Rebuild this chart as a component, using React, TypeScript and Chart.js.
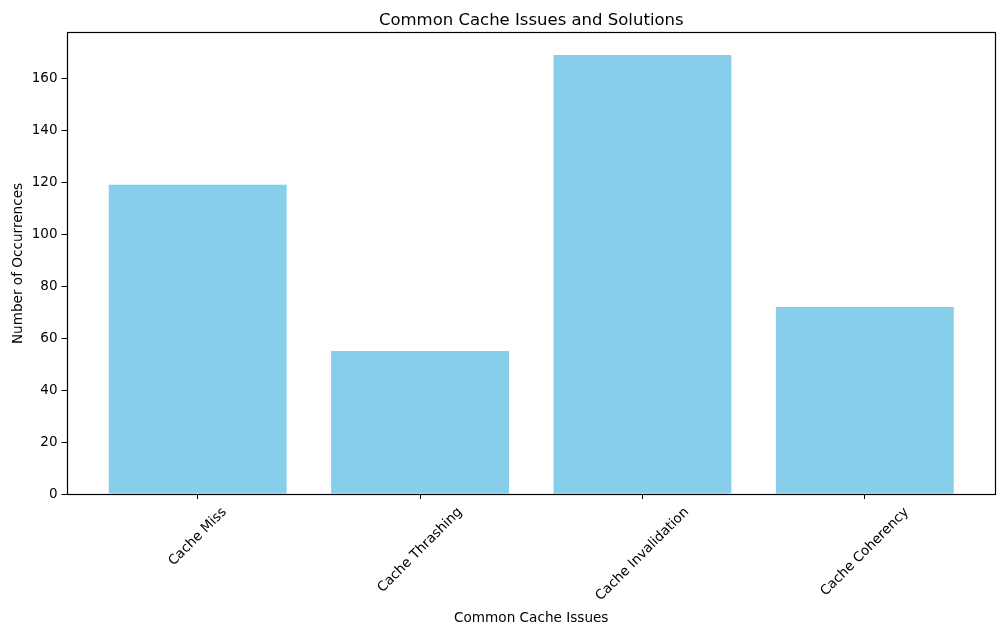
import React, { useEffect, useRef } from "react";
import { Chart, registerables } from "chart.js";

Chart.register(...registerables);

const categories = ["Cache Miss", "Cache Thrashing", "Cache Invalidation", "Cache Coherency"];
const occurrences = [119, 55, 169, 72];
const yTicks = [0, 20, 40, 60, 80, 100, 120, 140, 160];
const chartTitle = "Common Cache Issues and Solutions";
const xTitle = "Common Cache Issues";
const yTitle = "Number of Occurrences";

const FONT = "'DejaVu Sans', sans-serif";
const TICK_SIZE = 13.5;
const LABEL_SIZE = 13.6;
const TITLE_SIZE = 16.5;

export default function App() {
  const ref = useRef<HTMLCanvasElement | null>(null);

  useEffect(() => {
    if (!ref.current) return;
    const n = categories.length;
    const span = (n - 1) + 0.8;
    const margin = span * 0.05;
    const xMin = -0.4 - margin;
    const xMax = n - 1 + 0.4 + margin;
    const yMax = Math.max(...occurrences) * 1.05;

    const textPlugin = {
      id: "mplText",
      afterDraw(chart: any) {
        const ctx = chart.ctx as CanvasRenderingContext2D;
        const area = chart.chartArea;
        const xs = chart.scales.x;
        ctx.save();
        // frame
        ctx.strokeStyle = "#000";
        ctx.lineWidth = 1.2;
        const l = Math.round(area.left) + 0.5;
        const t = Math.round(area.top) - 0.5;
        const r = Math.round(area.right) - 0.5;
        const b = Math.round(area.bottom) + 0.5;
        ctx.strokeRect(l, t, r - l, b - t);
        ctx.fillStyle = "#000";
        // title
        ctx.font = `${TITLE_SIZE}px ${FONT}`;
        ctx.textAlign = "center";
        ctx.textBaseline = "alphabetic";
        ctx.fillText(chartTitle, (area.left + area.right) / 2, 25);
        // x tick labels rotated 45, centered bbox
        ctx.font = `${TICK_SIZE}px ${FONT}`;
        const c = Math.SQRT1_2;
        categories.forEach((lab, i) => {
          const px = xs.getPixelForValue(i);
          const w = ctx.measureText(lab).width;
          const h = TICK_SIZE * 1.05;
          const bboxH = (w + h) * c;
          const cy = area.bottom + 11 + bboxH / 2;
          ctx.save();
          ctx.translate(px, cy);
          ctx.rotate(-Math.PI / 4);
          ctx.textAlign = "center";
          ctx.textBaseline = "middle";
          ctx.fillText(lab, 0, 0);
          ctx.restore();
        });
        // axis titles
        ctx.font = `${LABEL_SIZE}px ${FONT}`;
        ctx.textAlign = "center";
        ctx.textBaseline = "alphabetic";
        ctx.fillText(xTitle, (area.left + area.right) / 2, 622);
        ctx.save();
        ctx.translate(22, (area.top + area.bottom) / 2);
        ctx.rotate(-Math.PI / 2);
        ctx.fillText(yTitle, 0, 0);
        ctx.restore();
        ctx.restore();
      },
    };

    const chart = new Chart(ref.current, {
      type: "bar",
      data: {
        datasets: [
          {
            data: categories.map((_, i) => ({ x: i, y: occurrences[i] })),
            backgroundColor: "#87CEEB",
            borderWidth: 0,
            barPercentage: 0.8,
            categoryPercentage: 1,
          },
        ],
      },
      options: {
        animation: false,
        responsive: false,
        maintainAspectRatio: false,
        layout: { padding: { left: 0, right: 9, top: 33, bottom: 0 } },
        plugins: {
          legend: { display: false },
          title: { display: false },
          tooltip: { enabled: false },
        },
        scales: {
          x: {
            type: "linear",
            min: xMin,
            max: xMax,
            offset: false,
            afterBuildTicks: (s: any) => {
              s.ticks = categories.map((_, i) => ({ value: i }));
            },
            afterFit: (s: any) => {
              s.height = 634 - 494;
            },
            grid: {
              offset: false,
              display: true,
              drawOnChartArea: false,
              drawTicks: true,
              tickLength: 5,
              color: "#000",
              tickColor: "#000",
            },
            border: { display: false },
            ticks: { display: false },
          },
          y: {
            type: "linear",
            min: 0,
            max: yMax,
            afterBuildTicks: (s: any) => {
              s.ticks = yTicks.map((v) => ({ value: v }));
            },
            afterFit: (s: any) => {
              s.width = 66.5;
            },
            grid: {
              display: true,
              drawOnChartArea: false,
              drawTicks: true,
              tickLength: 5,
              color: "#000",
              tickColor: "#000",
            },
            border: { display: false },
            ticks: {
              color: "#000",
              font: { family: FONT, size: TICK_SIZE },
              padding: 4,
              autoSkip: false,
            },
          },
        },
      },
      plugins: [textPlugin],
    });
    return () => chart.destroy();
  }, []);

  return (
    <div style={{ position: "fixed", left: 0, top: 0, width: 1005, height: 634, background: "#fff" }}>
      <canvas ref={ref} width={1005} height={634} style={{ width: 1005, height: 634 }} />
    </div>
  );
}
